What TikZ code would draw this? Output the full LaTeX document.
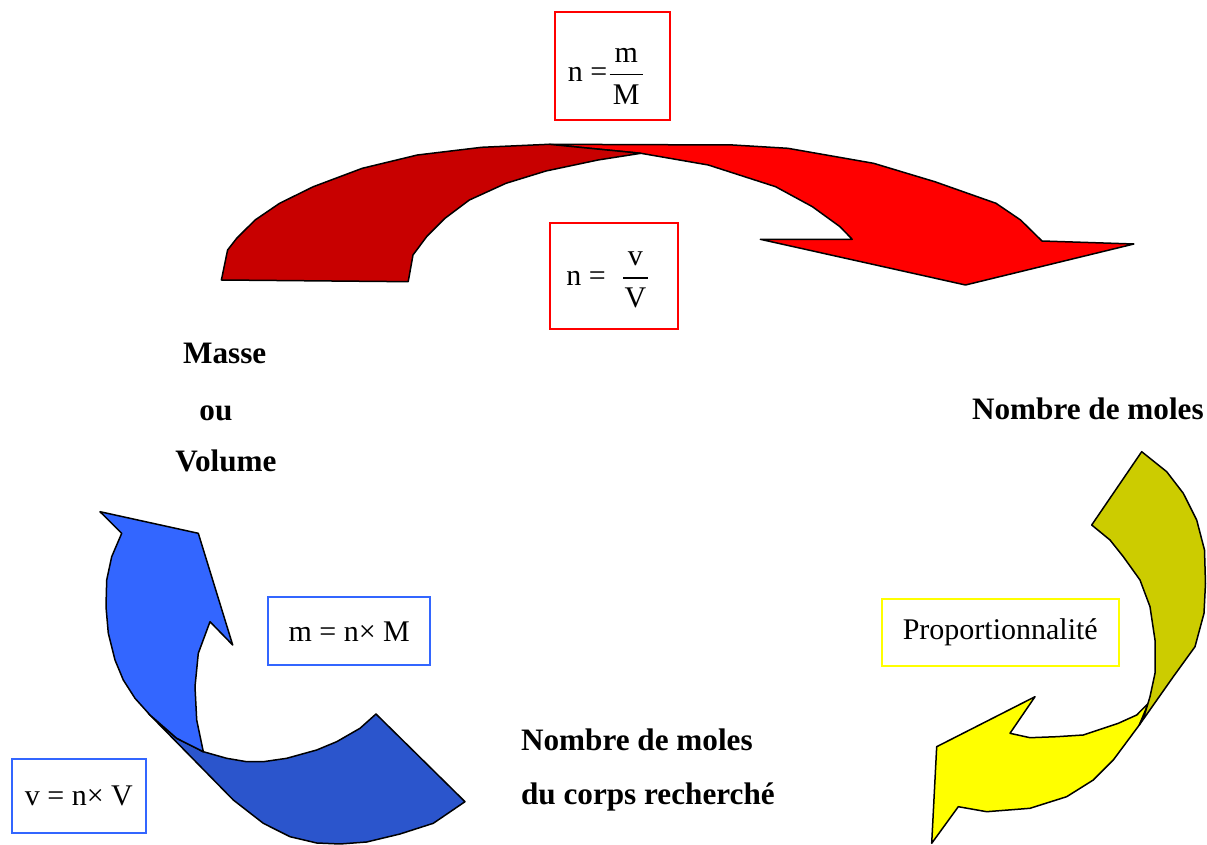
\documentclass[tikz,border=0pt]{standalone}
\usepackage{fontspec}
\setmainfont{Liberation Serif}

\definecolor{redDark}{RGB}{200,0,0}
\definecolor{redLight}{RGB}{255,0,0}
\definecolor{yelDark}{RGB}{204,204,0}
\definecolor{yelLight}{RGB}{255,255,0}
\definecolor{bluDark}{RGB}{43,85,204}
\definecolor{bluLight}{RGB}{51,102,255}

% fraction with a heavier bar and roomier denominator
\newcommand{\frq}[2]{$\displaystyle{\,\mbox{#1}\,\above 0.7pt \rule{0pt}{12.5pt}\mbox{#2}}$}

\begin{document}
\begin{tikzpicture}[
    x=0.5pt, y=-0.5pt,
    % Band styles
    band/.style={fill=#1, draw=black, line width=0.75pt, line join=round},
    % Formula boxes
    frm/.style={
        rectangle, draw=#1, line width=1pt, inner sep=0pt,
        align=center, font=\fontsize{15}{18}\selectfont
    },
    frm/.default=black,
    % Quantity labels
    lbl/.style={font=\fontsize{15.6}{18}\selectfont\bfseries, anchor=base west, inner sep=0pt},
]

\useasboundingbox (0,0) rectangle (1207,845);

% ═══════════════════════════════════════════════════════════════
% Red arrow: masse / volume -> nombre de moles (top)
% ═══════════════════════════════════════════════════════════════

\draw[band=redLight] (549,144.3) -- (732.8,145) -- (787.9,148.3) -- (873.6,163.3)
    -- (934.8,181.7) -- (996,203.3) -- (1020.6,220) -- (1042,241) -- (1133.9,244)
    -- (965.5,285) -- (760.3,239.3) -- (852.2,239.3) -- (840,226.7) -- (812.4,206.7)
    -- (775.6,186.7) -- (708.3,165) -- (640.9,153.3) -- cycle;

\draw[band=redDark] (221.4,280) -- (227.6,250) -- (236.7,238.3) -- (255.1,220)
    -- (279.6,203.3) -- (313.3,186.7) -- (362.3,168.3) -- (417.4,155) -- (481.7,147.3)
    -- (549,144.3) -- (640.9,153.3) -- (598,160) -- (546,171) -- (506,183.3)
    -- (469.4,200) -- (445,218.3) -- (426.6,236.7) -- (413,255) -- (408.2,281.7) -- cycle;

\node[frm=redLight, minimum width=57.5pt, minimum height=54pt,
      text height=26pt, text depth=10pt] (nmM) at (612.5,66)
    {n =\frq{m}{M}\hspace{6pt}};
\node[frm=redLight, minimum width=64.2pt, minimum height=52.9pt,
      text height=20pt, text depth=11pt] (nvV) at (614.2,276.2)
    {n =\ \ \frq{v}{V}\hspace{6pt}};

% ═══════════════════════════════════════════════════════════════
% Yellow arrow: nombre de moles -> corps recherche (right)
% ═══════════════════════════════════════════════════════════════

\draw[band=yelLight] (1148.3,703.3) -- (1139.3,725) -- (1113.3,760) -- (1093.3,780)
    -- (1066.7,796.7) -- (1030,808.3) -- (986.7,811.7) -- (958.3,806.7) -- (931.7,843.3)
    -- (936.7,746.7) -- (1035,696.7) -- (1010,733.3) -- (1030,737.7) -- (1056.7,736.7)
    -- (1083.3,735) -- (1118.3,723.3) -- (1136.7,715) -- cycle;

\draw[band=yelDark] (1141.7,451.7) -- (1166.7,471.7) -- (1183.3,493.3) -- (1196.7,520)
    -- (1204.5,550) -- (1205.5,583.3) -- (1204,613.3) -- (1195,646.7) -- (1173.3,676.7)
    -- (1139.3,725) -- (1145,713.3) -- (1150,696.7) -- (1155,673.3) -- (1155,640)
    -- (1150,606.7) -- (1140,580) -- (1123.3,556.7) -- (1110,540) -- (1091.7,525) -- cycle;

\node[frm=yelLight, minimum width=118.7pt, minimum height=33.2pt] (prop) at (1000.3,632.5)
    {Proportionnalité};

% ═══════════════════════════════════════════════════════════════
% Blue arrow: corps recherche -> masse / volume (left)
% ═══════════════════════════════════════════════════════════════

\draw[band=bluDark] (148.3,713.3) -- (176.7,738.3) -- (203.3,751.7) -- (226.7,758.3)
    -- (246.7,761.7) -- (263.3,761.7) -- (286.7,758.3) -- (316.7,750) -- (336.7,741.7)
    -- (360,728.3) -- (376,714) -- (465,801.7) -- (433.3,823.3) -- (400,834)
    -- (366.7,842) -- (340,844) -- (316.7,843) -- (290,836.7) -- (263.3,823.3)
    -- (233.3,800) -- cycle;

\draw[band=bluLight] (100,511.7) -- (198.3,533.3) -- (232.7,645) -- (210,621.7)
    -- (198.3,653.3) -- (195,686.7) -- (196.7,720) -- (203.3,751.7) -- (176.7,738.3)
    -- (150,715) -- (135,698.3) -- (123.3,680) -- (115,660) -- (108.3,633.3)
    -- (106,606.7) -- (106.7,580) -- (111.7,556.7) -- (121.7,533.3) -- cycle;

\node[frm=bluLight, minimum width=80.9pt, minimum height=33.9pt] (mnM) at (349.2,631.2)
    {m = n× M};
\node[frm=bluLight, minimum width=67.2pt, minimum height=37pt] (vnV) at (78.9,796.3)
    {v = n× V};

% ═══════════════════════════════════════════════════════════════
% Quantities
% ═══════════════════════════════════════════════════════════════

\node[lbl] (masse) at (182.7,363.3) {Masse};
\node[lbl] (ou) at (199,420.7) {ou};
\node[lbl] (volume) at (175,471.7) {Volume};

\node[lbl] (moles) at (971.7,419.3) {Nombre de moles};

\node[lbl] (corps1) at (520.7,750) {Nombre de moles};
\node[lbl] (corps2) at (520.7,805) {du corps recherché};

\end{tikzpicture}
\end{document}
